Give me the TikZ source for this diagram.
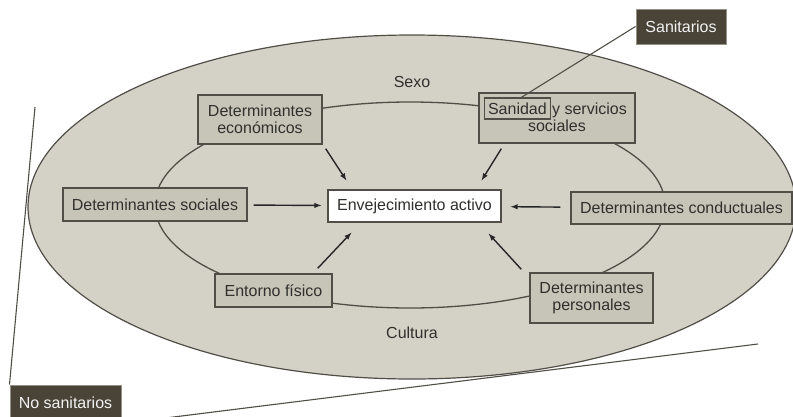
\documentclass[tikz,border=0pt]{standalone}
\usepackage{fontspec}
\setmainfont{Liberation Sans}
\usepackage{tikz}
\usetikzlibrary{arrows}
\definecolor{ovalgray}{RGB}{212,209,199}
\definecolor{boxgray}{RGB}{199,196,184}
\definecolor{edgegray}{RGB}{80,78,70}
\definecolor{darkbox}{RGB}{74,68,56}
\definecolor{txtgray}{RGB}{48,48,45}
\tikzstyle{every node}=[font=\fontsize{16}{17}\selectfont, text=txtgray]
\tikzstyle{detbox}=[draw=edgegray, fill=boxgray, line width=1.3pt, align=center, inner sep=2pt]
\tikzstyle{darkbox}=[draw=boxgray!60!darkbox, fill=darkbox, text=white!90!gray, line width=1pt, inner sep=2pt]
\tikzstyle{arr}=[-latex, line width=1.4pt, draw=black!85]

\begin{document}
\begin{tikzpicture}[x=1pt, y=-1pt]
\useasboundingbox (0,0) rectangle (793,416);
\fill[ovalgray, draw=edgegray, line width=1.2pt] (412,207) ellipse [x radius=384, y radius=172];
\draw[edgegray, line width=1.3pt] (410,205) ellipse [x radius=255, y radius=103];
\node at (412,82) (sexo) {Sexo};
\node at (412,333) (cultura) {Cultura};
\node[draw=edgegray, fill=white, line width=1.3pt, minimum width=173, minimum height=32] (central) at (414.5,206) {Envejecimiento activo};
\node[detbox, minimum width=124, minimum height=49] (econ) at (260,119.5) {Determinantes\\económicos};
\node[detbox, minimum width=156, minimum height=50] (sanidad) at (557,118) {};
\node[draw=edgegray, line width=1.3pt, inner xsep=3.5pt, minimum height=21] (sanword) at (517.4,108.5) {Sanidad};
\node[anchor=base west, inner sep=0pt] (servicios) at ([xshift=1]sanword.base east) {y servicios};
\node at (557,126) (sociales) {sociales};
\node[detbox, minimum width=184, minimum height=33] (social) at (155,204.5) {Determinantes sociales};
\node[detbox, minimum width=221, minimum height=32] (conductual) at (681.5,208) {Determinantes conductuales};
\node[detbox, minimum width=117, minimum height=33] (entorno) at (273.5,290.5) {Entorno físico};
\node[detbox, minimum width=123, minimum height=50] (personal) at (591.5,298) {Determinantes\\personales};
\node[darkbox, minimum width=90, minimum height=35] (sanitarios) at (681,26.5) {Sanitarios};
\node[darkbox, minimum width=111, minimum height=35] (nosan) at (65.5,402.5) {No sanitarios};
\coordinate (wedgeT) at (35,107);
\coordinate (wedgeR) at (758,344);
\draw[edgegray, line width=1.1pt] (sanitarios.west) -- ([xshift=4]sanword.north);
\draw[edgegray, line width=1.1pt] (nosan.north west) -- (wedgeT);
\draw[edgegray, line width=1.1pt] ([yshift=-3]nosan.south east) -- (wedgeR);
\draw[arr, shorten <=6pt, shorten >=6pt] (social) -- (central);
\draw[arr, shorten <=10pt, shorten >=9pt] (conductual) -- (central);
\draw[arr] ([shift={(3,4)}]econ.south east) -- ([shift={(19,-9)}]central.north west);
\draw[arr] ([shift={(23,5)}]sanidad.south west) -- ([shift={(-20,-9)}]central.north east);
\draw[arr] ([shift={(-15,-5)}]entorno.north east) -- ([shift={(24,10)}]central.south west);
\draw[arr] ([shift={(-8,-3)}]personal.north west) -- ([shift={(-13,11)}]central.south east);
\end{tikzpicture}
\end{document}
